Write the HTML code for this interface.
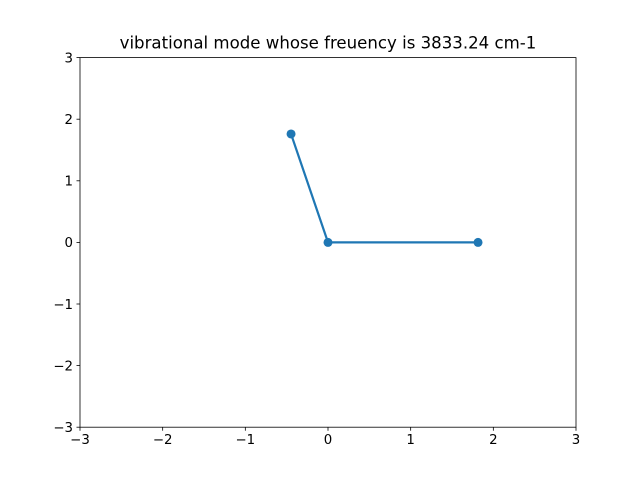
<!DOCTYPE html>
<html><head><meta charset="utf-8"><style>body{margin:0;background:#fff}svg{display:block}text{font-family:"DejaVu Sans",sans-serif;fill:#000}</style></head>
<body>
<svg id="chart" width="640" height="480"></svg>
<script>
const xValues = [-0.447, 0, 1.815];
const yValues = [1.76, 0, 0];
const xTicks = [-3, -2, -1, 0, 1, 2, 3];
const yTicks = [-3, -2, -1, 0, 1, 2, 3];
const titleText = "vibrational mode whose freuency is 3833.24 cm-1";

const L=80,R=576,T=57.6,B=427.2;
const sx=v=>L+(v+3)/6*(R-L);
const sy=v=>B-(v+3)/6*(B-T);
const svg=document.getElementById('chart');
const NS='http://www.w3.org/2000/svg';
function mk(tag,attrs,parent){const e=document.createElementNS(NS,tag);for(const k in attrs)e.setAttribute(k,attrs[k]);(parent||svg).appendChild(e);return e;}

const frame=mk('rect',{x:L,y:T,width:R-L,height:B-T,fill:'none',stroke:'#000','stroke-width':0.8});



xTicks.forEach(t=>{
  const g=mk('g',{});
  
  
  mk('line',{x1:sx(t),x2:sx(t),y1:B,y2:B+3.5,stroke:'#000','stroke-width':0.8},g);
  const tx=mk('text',{x:sx(t),y:B+17,'text-anchor':'middle','font-size':13.33},g);
  tx.textContent=t<0?'\u2212'+(-t):String(t);
});
yTicks.forEach(t=>{
  const g=mk('g',{});
  
  
  mk('line',{x1:L-3.5,x2:L,y1:sy(t),y2:sy(t),stroke:'#000','stroke-width':0.8},g);
  const tx=mk('text',{x:L-7,y:sy(t)+4.8,'text-anchor':'end','font-size':13.33},g);
  tx.textContent=t<0?'\u2212'+(-t):String(t);
});

const pts=xValues.map((x,i)=>sx(x)+','+sy(yValues[i])).join(' ');
const line=mk('polyline',{points:pts,fill:'none',stroke:'#1f77b4','stroke-width':2.2,'stroke-linejoin':'round'});


xValues.forEach((x,i)=>{
  const c=mk('circle',{cx:sx(x),cy:sy(yValues[i]),r:4.5,fill:'#1f77b4'});
  
  
});

const title=mk('text',{x:(L+R)/2,y:T-9,'text-anchor':'middle','font-size':16.6});
title.textContent=titleText;


</script>
</body></html>
